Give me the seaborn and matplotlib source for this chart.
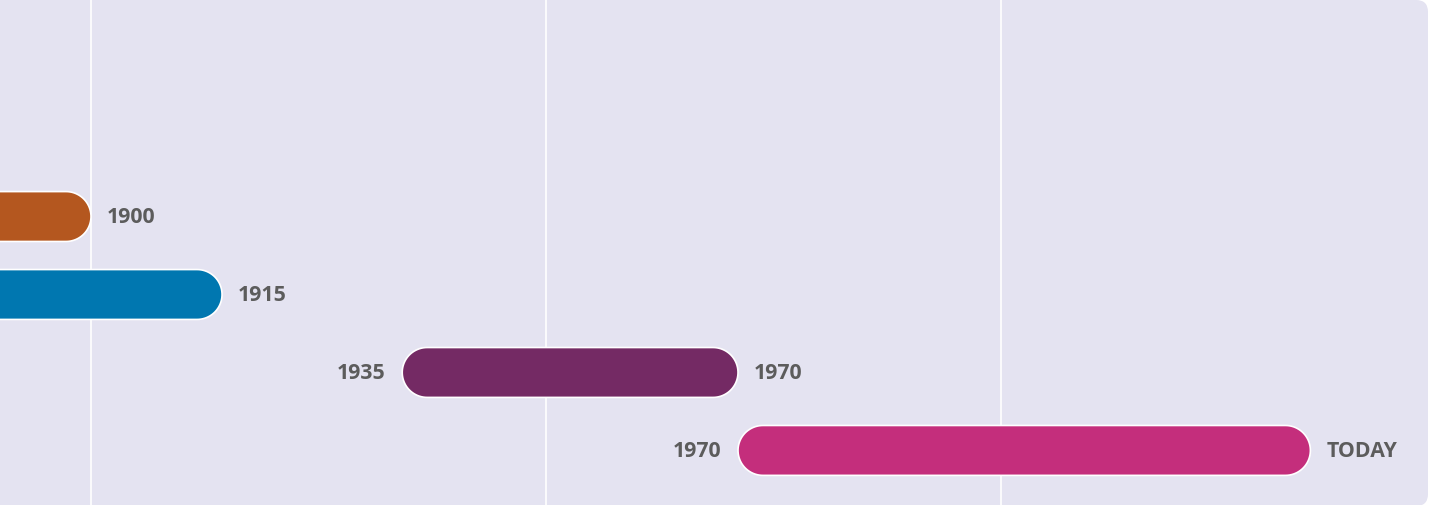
import numpy as np
import pandas as pd
import matplotlib
matplotlib.use("Agg")
import matplotlib.pyplot as plt
from matplotlib.patches import FancyBboxPatch, Polygon
from matplotlib.transforms import IdentityTransform
import seaborn as sns

# ────────────────────────────────────────────────
# DATA  (bar ends, in years)
# ────────────────────────────────────────────────
starts      = [1880, 1880, 1934.2, 1971.1]      # first two begin off the visible range
ends        = [1900, 1914.4, 1971.1, 2034]
start_text  = ["", "", "1935", "1970"]
end_text    = ["1900", "1915", "1970", "TODAY"]
colors      = ["#b4571f", "#0077b0", "#742a64", "#c42e7c"]
grid_years  = [1900, 1950, 2000]

df = pd.DataFrame({"start": starts, "end": ends,
                   "start_text": start_text, "end_text": end_text, "color": colors})

# ────────────────────────────────────────────────
# STYLE
# ────────────────────────────────────────────────
sns.set_theme(style="darkgrid")
plt.rcParams["font.family"] = ["Open Sans", "DejaVu Sans"]

BG = "#e4e3f1"
TEXT = "#5c5c5c"
W, H, DPI = 1429, 506, 100

fig = plt.figure(figsize=(W / DPI, H / DPI), dpi=DPI, facecolor="white")
ax = fig.add_axes([0, 0, 1, 1])
ax.set_facecolor("none")

# panel background with rounded right corners
panel = FancyBboxPatch((-40, -1), W - 1 + 40, H,
                       boxstyle="round,pad=0,rounding_size=12",
                       transform=IdentityTransform(), facecolor=BG,
                       edgecolor="none", zorder=-10)
fig.patches.append(panel)

# two earlier rows sit above the visible eras
n_hidden = 2
rows = np.arange(len(df)) + n_hidden
ax.set_xlim(1890, 1890 + W / 9.1)
ax.set_ylim(len(df) + n_hidden - 1 + 0.70, -0.79)

ax.set_xticks(grid_years)
ax.set_yticks([])
ax.grid(axis="x", color="white", linewidth=1.2)
ax.grid(axis="y", visible=False)
ax.tick_params(labelbottom=False, length=0)
for s in ax.spines.values():
    s.set_visible(False)

# ────────────────────────────────────────────────
# PILL-SHAPED BARS
# ────────────────────────────────────────────────
bar_h = 0.64
fig.canvas.draw()
p0 = ax.transData.transform((0, 0))
px_x = ax.transData.transform((1, 0))[0] - p0[0]
px_y = abs(ax.transData.transform((0, 1))[1] - p0[1])
rx = (bar_h * px_y / 2) / px_x          # cap radius in years
ry = bar_h / 2                            # cap radius in rows


def pill(x0, x1, yc):
    t = np.linspace(-np.pi / 2, np.pi / 2, 40)
    right = np.column_stack([x1 - rx + rx * np.cos(t), yc + ry * np.sin(t)])
    left = np.column_stack([x0 + rx - rx * np.cos(t), yc - ry * np.sin(t)])
    return np.vstack([right, left])


fs = 15.3
for r, row in zip(rows, df.itertuples()):
    ax.add_patch(Polygon(pill(row.start, row.end, r), closed=True,
                         facecolor=row.color, edgecolor="white",
                         linewidth=1.2, zorder=3))
    if row.start_text:
        ax.annotate(row.start_text, (row.start, r), xytext=(-12, 0),
                    textcoords="offset points", ha="right", va="center",
                    fontsize=fs, fontweight="bold", color=TEXT)
    ax.annotate(row.end_text, (row.end, r), xytext=(11.5, 0),
                textcoords="offset points", ha="left", va="center",
                fontsize=fs, fontweight="bold", color=TEXT)

fig.savefig("out.png", dpi=DPI, facecolor="white")
